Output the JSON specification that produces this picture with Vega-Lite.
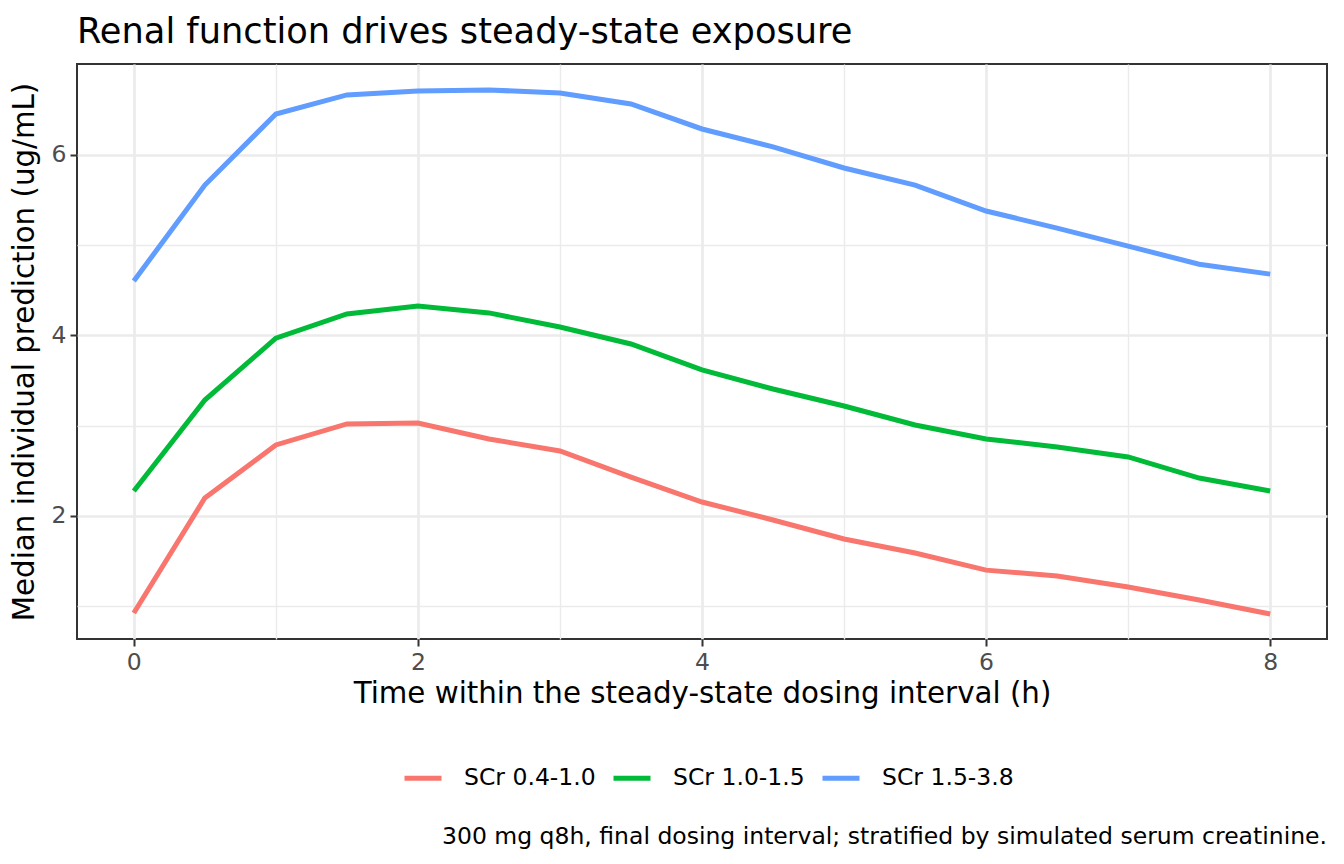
{
  "$schema": "https://vega.github.io/schema/vega-lite/v6.json",
  "description": "Median individual prediction over the steady-state dosing interval, by serum creatinine stratum.",
  "padding": {"left": 9, "top": 13, "right": 14, "bottom": 10},
  "config": {
    "font": "DejaVu Sans",
    "view": {"stroke": "#333333", "strokeWidth": 2},
    "axis": {
      "domain": false,
      "gridColor": "#EBEBEB",
      "tickColor": "#333333",
      "tickWidth": 2,
      "tickSize": 7,
      "labelColor": "#4D4D4D",
      "labelFontSize": 23.5,
      "titleFontSize": 29.3,
      "titleFontWeight": "normal",
      "titleColor": "#000000"
    },
    "legend": {
      "labelFontSize": 23.5,
      "labelColor": "#000000"
    }
  },
  "title": {
    "text": "300 mg q8h, final dosing interval; stratified by simulated serum creatinine.",
    "orient": "bottom",
    "anchor": "end",
    "frame": "group",
    "fontSize": 23.5,
    "fontWeight": "normal",
    "color": "#000000",
    "offset": 35
  },
  "vconcat": [
    {
      "title": {
        "text": "Renal function drives steady-state exposure",
        "anchor": "start",
        "frame": "group",
        "fontSize": 35.2,
        "fontWeight": "normal",
        "color": "#000000",
        "offset": 14
      },
      "width": 1250,
      "height": 575,
      "data": {
        "values": [
          {"time": 0, "stratum": "SCr 0.4-1.0", "conc": 0.925},
          {"time": 0.5, "stratum": "SCr 0.4-1.0", "conc": 2.2},
          {"time": 1, "stratum": "SCr 0.4-1.0", "conc": 2.787},
          {"time": 1.5, "stratum": "SCr 0.4-1.0", "conc": 3.02},
          {"time": 2, "stratum": "SCr 0.4-1.0", "conc": 3.03},
          {"time": 2.5, "stratum": "SCr 0.4-1.0", "conc": 2.853},
          {"time": 3, "stratum": "SCr 0.4-1.0", "conc": 2.72},
          {"time": 3.5, "stratum": "SCr 0.4-1.0", "conc": 2.43},
          {"time": 4, "stratum": "SCr 0.4-1.0", "conc": 2.155},
          {"time": 4.5, "stratum": "SCr 0.4-1.0", "conc": 1.956},
          {"time": 5, "stratum": "SCr 0.4-1.0", "conc": 1.745},
          {"time": 5.5, "stratum": "SCr 0.4-1.0", "conc": 1.59},
          {"time": 6, "stratum": "SCr 0.4-1.0", "conc": 1.4},
          {"time": 6.5, "stratum": "SCr 0.4-1.0", "conc": 1.335},
          {"time": 7, "stratum": "SCr 0.4-1.0", "conc": 1.213},
          {"time": 7.5, "stratum": "SCr 0.4-1.0", "conc": 1.07},
          {"time": 8, "stratum": "SCr 0.4-1.0", "conc": 0.914},
          {"time": 0, "stratum": "SCr 1.0-1.5", "conc": 2.277},
          {"time": 0.5, "stratum": "SCr 1.0-1.5", "conc": 3.285},
          {"time": 1, "stratum": "SCr 1.0-1.5", "conc": 3.97},
          {"time": 1.5, "stratum": "SCr 1.0-1.5", "conc": 4.238},
          {"time": 2, "stratum": "SCr 1.0-1.5", "conc": 4.327},
          {"time": 2.5, "stratum": "SCr 1.0-1.5", "conc": 4.25},
          {"time": 3, "stratum": "SCr 1.0-1.5", "conc": 4.094},
          {"time": 3.5, "stratum": "SCr 1.0-1.5", "conc": 3.906},
          {"time": 4, "stratum": "SCr 1.0-1.5", "conc": 3.618},
          {"time": 4.5, "stratum": "SCr 1.0-1.5", "conc": 3.407},
          {"time": 5, "stratum": "SCr 1.0-1.5", "conc": 3.219},
          {"time": 5.5, "stratum": "SCr 1.0-1.5", "conc": 3.008},
          {"time": 6, "stratum": "SCr 1.0-1.5", "conc": 2.853},
          {"time": 6.5, "stratum": "SCr 1.0-1.5", "conc": 2.765},
          {"time": 7, "stratum": "SCr 1.0-1.5", "conc": 2.654},
          {"time": 7.5, "stratum": "SCr 1.0-1.5", "conc": 2.42},
          {"time": 8, "stratum": "SCr 1.0-1.5", "conc": 2.277},
          {"time": 0, "stratum": "SCr 1.5-3.8", "conc": 4.604},
          {"time": 0.5, "stratum": "SCr 1.5-3.8", "conc": 5.667},
          {"time": 1, "stratum": "SCr 1.5-3.8", "conc": 6.454},
          {"time": 1.5, "stratum": "SCr 1.5-3.8", "conc": 6.665},
          {"time": 2, "stratum": "SCr 1.5-3.8", "conc": 6.709},
          {"time": 2.5, "stratum": "SCr 1.5-3.8", "conc": 6.72},
          {"time": 3, "stratum": "SCr 1.5-3.8", "conc": 6.687},
          {"time": 3.5, "stratum": "SCr 1.5-3.8", "conc": 6.565},
          {"time": 4, "stratum": "SCr 1.5-3.8", "conc": 6.288},
          {"time": 4.5, "stratum": "SCr 1.5-3.8", "conc": 6.089},
          {"time": 5, "stratum": "SCr 1.5-3.8", "conc": 5.856},
          {"time": 5.5, "stratum": "SCr 1.5-3.8", "conc": 5.667},
          {"time": 6, "stratum": "SCr 1.5-3.8", "conc": 5.379},
          {"time": 6.5, "stratum": "SCr 1.5-3.8", "conc": 5.19},
          {"time": 7, "stratum": "SCr 1.5-3.8", "conc": 4.99},
          {"time": 7.5, "stratum": "SCr 1.5-3.8", "conc": 4.79},
          {"time": 8, "stratum": "SCr 1.5-3.8", "conc": 4.68}
        ]
      },
      "mark": {"type": "line", "strokeWidth": 5, "clip": true},
      "encoding": {
        "x": {
          "field": "time",
          "type": "quantitative",
          "title": "Time within the steady-state dosing interval (h)",
          "scale": {"domain": [-0.4, 8.4], "nice": false, "zero": false},
          "axis": {
            "values": [0, 1, 2, 3, 4, 5, 6, 7, 8],
            "labelExpr": "datum.value % 2 === 0 ? datum.label : ''",
            "tickOpacity": {"condition": {"test": "datum.value % 2 === 0", "value": 1}, "value": 0},
            "gridWidth": {"condition": {"test": "datum.value % 2 === 0", "value": 2.7}, "value": 1.4},
            "labelPadding": 4,
            "titlePadding": 6
          }
        },
        "y": {
          "field": "conc",
          "type": "quantitative",
          "title": "Median individual prediction (ug/mL)",
          "scale": {"domain": [0.637, 7.008], "nice": false, "zero": false},
          "axis": {
            "values": [1, 2, 3, 4, 5, 6],
            "labelExpr": "datum.value % 2 === 0 ? datum.label : ''",
            "tickOpacity": {"condition": {"test": "datum.value % 2 === 0", "value": 1}, "value": 0},
            "gridWidth": {"condition": {"test": "datum.value % 2 === 0", "value": 2.7}, "value": 1.4},
            "labelPadding": 4,
            "titlePadding": 12
          }
        },
        "color": {
          "field": "stratum",
          "type": "nominal",
          "title": null,
          "scale": {
            "domain": ["SCr 0.4-1.0", "SCr 1.0-1.5", "SCr 1.5-3.8"],
            "range": ["#F8766D", "#00BA38", "#619CFF"]
          },
          "legend": {
            "orient": "none",
            "direction": "horizontal",
            "legendX": 325,
            "legendY": 693,
            "symbolType": "stroke",
            "symbolStrokeWidth": 5,
            "symbolSize": 1369,
            "labelOffset": 20,
            "columnPadding": 7
          }
        }
      }
    }
  ]
}
